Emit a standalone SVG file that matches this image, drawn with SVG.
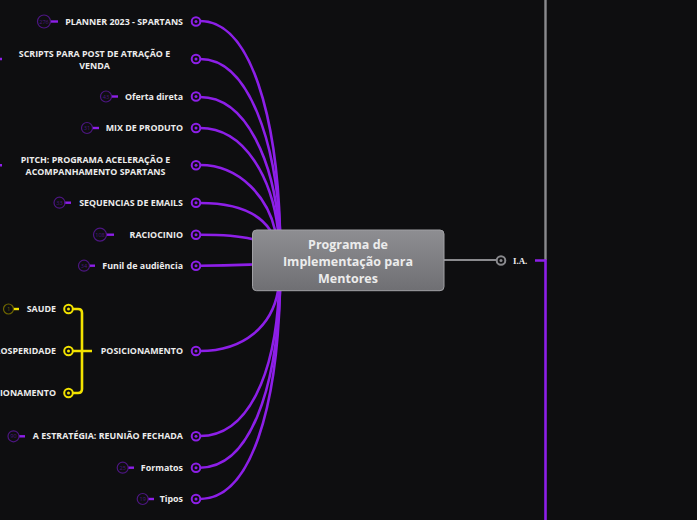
<svg xmlns="http://www.w3.org/2000/svg" width="697" height="520" viewBox="0 0 697 520">
<defs>
<linearGradient id="ng" x1="0" y1="0" x2="0" y2="1">
<stop offset="0" stop-color="#8e8e92"/>
<stop offset="1" stop-color="#6f6f73"/>
</linearGradient>
<style>
.lbl{font-family:"Open Sans","Noto Sans",sans-serif;font-weight:700;font-size:8.9px;fill:#ececec;}
.ctr{font-family:"Open Sans","Noto Sans",sans-serif;font-weight:700;font-size:12.5px;fill:#ececec;text-anchor:middle;}
.pc{fill:none;stroke:#8d1fe8;stroke-width:2.6;stroke-linecap:round;}
.yc{fill:none;stroke:#f2e200;stroke-width:2.6;}
.pe{fill:#0e0e10;stroke:#8d1fe8;stroke-width:2;}
.pd{fill:#8d1fe8;}
.ye{fill:#0e0e10;stroke:#f2e200;stroke-width:2;}
.yd{fill:#f2e200;}
.bp{fill:none;stroke:#4d1682;stroke-width:1.2;}
.bpl{stroke:#8d1fe8;stroke-width:2.4;}
.bt{font-family:"Open Sans",sans-serif;font-size:5.5px;fill:#4d1682;text-anchor:middle;}
.by{fill:none;stroke:#6e6600;stroke-width:1.2;}
.byl{stroke:#f2e200;stroke-width:2.4;}
.byt{font-family:"Open Sans",sans-serif;font-size:5.5px;fill:#6e6600;text-anchor:middle;}
</style>
</defs>
<rect width="697" height="520" fill="#0e0e10"/>
<g id="connectors">
<path class="pc" d="M200,21 C252,21 277,120 280,230"/>
<path class="pc" d="M200,59 C250,59 276,145 280,230"/>
<path class="pc" d="M200,97 C248,97 274,165 279,230"/>
<path class="pc" d="M200,128 C246,128 272,180 278,230"/>
<path class="pc" d="M200,165 C242,165 268,200 275,230"/>
<path class="pc" d="M200,203 C235,203 258,212 270,230"/>
<path class="pc" d="M200,234.7 C225,234.7 240,236 252,239"/>
<path class="pc" d="M200,265.7 C225,265.7 240,265 252,264.5"/>
<path class="pc" d="M200,351 C245,351 272,325 278,291"/>
<path class="pc" d="M200,436 C248,436 275,375 279,291"/>
<path class="pc" d="M200,467.7 C250,467.7 276,390 280,291"/>
<path class="pc" d="M200,499 C252,499 277,405 280,291"/>
<path class="yc" d="M72,309 H78 Q82,309 82,313 V389 Q82,393 78,393 H72 M72,351 H92"/>
<path d="M444,260 H497" stroke="#8a8a8e" stroke-width="2" fill="none"/>
<path d="M545.5,0 V260" stroke="#8a8a8e" stroke-width="2.4" fill="none"/>
<path d="M535,260.5 H545.5 V520" stroke="#8d1fe8" stroke-width="2.6" fill="none"/>
</g>
<g id="center">
<rect x="252.5" y="230" width="191.5" height="60.7" rx="4" fill="url(#ng)" stroke="#a0a0a4" stroke-width="1"/>
<text class="ctr" x="348" y="249">Programa de</text>
<text class="ctr" x="348" y="266">Implementação para</text>
<text class="ctr" x="348" y="283">Mentores</text>
</g>
<g id="n-planner">
<circle class="pe" cx="196" cy="21.5" r="4.3"/><circle class="pd" cx="196" cy="21.5" r="1.5"/>
<text class="lbl" x="183" y="24.5" text-anchor="end">PLANNER 2023 - SPARTANS</text>
<line class="bpl" x1="50" y1="21.5" x2="58" y2="21.5"/><circle class="bp" cx="44" cy="21.5" r="6.5"/><text class="bt" x="44" y="23.5">276</text>
</g>
<g id="n-scripts">
<circle class="pe" cx="196" cy="59" r="4.3"/><circle class="pd" cx="196" cy="59" r="1.5"/>
<text class="lbl" x="94.5" y="57" text-anchor="middle">SCRIPTS PARA POST DE ATRAÇÃO E</text>
<text class="lbl" x="94.5" y="69" text-anchor="middle">VENDA</text>
<line class="bpl" x1="0" y1="59" x2="2" y2="59"/>
</g>
<g id="n-oferta">
<circle class="pe" cx="196" cy="96.5" r="4.3"/><circle class="pd" cx="196" cy="96.5" r="1.5"/>
<text class="lbl" x="183" y="99.5" text-anchor="end">Oferta direta</text>
<line class="bpl" x1="111" y1="96.5" x2="118" y2="96.5"/><circle class="bp" cx="106" cy="96.5" r="5.5"/><text class="bt" x="106" y="98.5">43</text>
</g>
<g id="n-mix">
<circle class="pe" cx="196" cy="128" r="4.3"/><circle class="pd" cx="196" cy="128" r="1.5"/>
<text class="lbl" x="183" y="131" text-anchor="end">MIX DE PRODUTO</text>
<line class="bpl" x1="92" y1="128" x2="99" y2="128"/><circle class="bp" cx="87" cy="128" r="5.5"/><text class="bt" x="87" y="130">31</text>
</g>
<g id="n-pitch">
<circle class="pe" cx="196" cy="165.3" r="4.3"/><circle class="pd" cx="196" cy="165.3" r="1.5"/>
<text class="lbl" x="95.5" y="163" text-anchor="middle">PITCH: PROGRAMA ACELERAÇÃO E</text>
<text class="lbl" x="95.5" y="175" text-anchor="middle">ACOMPANHAMENTO SPARTANS</text>
<line class="bpl" x1="0" y1="165.3" x2="2" y2="165.3"/>
</g>
<g id="n-seq">
<circle class="pe" cx="196" cy="202.7" r="4.3"/><circle class="pd" cx="196" cy="202.7" r="1.5"/>
<text class="lbl" x="183" y="205.7" text-anchor="end">SEQUENCIAS DE EMAILS</text>
<line class="bpl" x1="64.5" y1="202.7" x2="71" y2="202.7"/><circle class="bp" cx="59.5" cy="202.7" r="5.5"/><text class="bt" x="59.5" y="204.7">33</text>
</g>
<g id="n-racio">
<circle class="pe" cx="196" cy="234.7" r="4.3"/><circle class="pd" cx="196" cy="234.7" r="1.5"/>
<text class="lbl" x="183" y="237.7" text-anchor="end">RACIOCINIO</text>
<line class="bpl" x1="106" y1="234.7" x2="114" y2="234.7"/><circle class="bp" cx="100" cy="234.7" r="6.5"/><text class="bt" x="100" y="236.7">108</text>
</g>
<g id="n-funil">
<circle class="pe" cx="196" cy="265.7" r="4.3"/><circle class="pd" cx="196" cy="265.7" r="1.5"/>
<text class="lbl" x="183" y="268.7" text-anchor="end">Funil de audiência</text>
<line class="bpl" x1="89" y1="265.7" x2="95" y2="265.7"/><circle class="bp" cx="84" cy="265.7" r="5.5"/><text class="bt" x="84" y="267.7">34</text>
</g>
<g id="n-posic">
<circle class="pe" cx="196" cy="351" r="4.3"/><circle class="pd" cx="196" cy="351" r="1.5"/>
<text class="lbl" x="183" y="354" text-anchor="end">POSICIONAMENTO</text>
</g>
<g id="n-saude">
<circle class="ye" cx="68.5" cy="309" r="4.3"/><circle class="yd" cx="68.5" cy="309" r="1.5"/>
<text class="lbl" x="56" y="312" text-anchor="end">SAUDE</text>
<line class="byl" x1="13" y1="309" x2="19" y2="309"/><circle class="by" cx="8.5" cy="309" r="5"/><text class="byt" x="8.5" y="311">1</text>
</g>
<g id="n-prosp">
<circle class="ye" cx="68.5" cy="351" r="4.3"/><circle class="yd" cx="68.5" cy="351" r="1.5"/>
<text class="lbl" x="56" y="354" text-anchor="end">PROSPERIDADE</text>
</g>
<g id="n-relac">
<circle class="ye" cx="68.5" cy="393" r="4.3"/><circle class="yd" cx="68.5" cy="393" r="1.5"/>
<text class="lbl" x="56" y="396" text-anchor="end">RELACIONAMENTO</text>
</g>
<g id="n-estrat">
<circle class="pe" cx="196" cy="436.3" r="4.3"/><circle class="pd" cx="196" cy="436.3" r="1.5"/>
<text class="lbl" x="183" y="439.3" text-anchor="end">A ESTRATÉGIA: REUNIÃO FECHADA</text>
<line class="bpl" x1="19" y1="436.3" x2="25" y2="436.3"/><circle class="bp" cx="13.5" cy="436.3" r="5.5"/><text class="bt" x="13.5" y="438.3">90</text>
</g>
<g id="n-formatos">
<circle class="pe" cx="196" cy="467.7" r="4.3"/><circle class="pd" cx="196" cy="467.7" r="1.5"/>
<text class="lbl" x="183" y="470.7" text-anchor="end">Formatos</text>
<line class="bpl" x1="128" y1="467.7" x2="134" y2="467.7"/><circle class="bp" cx="122.7" cy="467.7" r="5.5"/><text class="bt" x="122.7" y="469.7">25</text>
</g>
<g id="n-tipos">
<circle class="pe" cx="196" cy="499" r="4.3"/><circle class="pd" cx="196" cy="499" r="1.5"/>
<text class="lbl" x="183" y="502" text-anchor="end">Tipos</text>
<line class="bpl" x1="148" y1="499" x2="154" y2="499"/><circle class="bp" cx="142.7" cy="499" r="5.5"/><text class="bt" x="142.7" y="501">19</text>
</g>
<g id="n-ia">
<circle cx="501" cy="260.5" r="4.3" fill="#0e0e10" stroke="#8a8a8e" stroke-width="2"/><circle cx="501" cy="260.5" r="1.5" fill="#8a8a8e"/>
<text class="lbl" x="513" y="263.5" style="font-family:'Liberation Serif',serif">I.A.</text>
</g>
</svg>
